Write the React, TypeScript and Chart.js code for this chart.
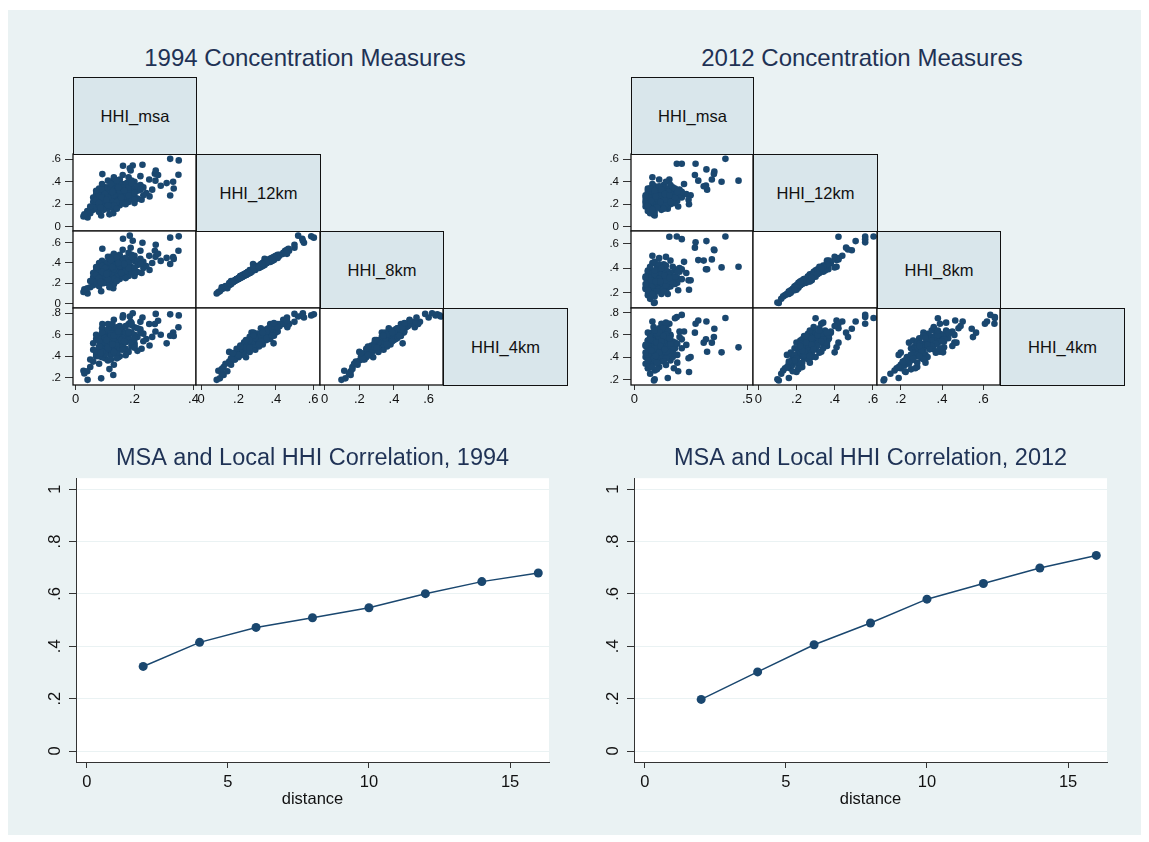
import React, { useEffect, useRef } from "react";
import { Chart, registerables } from "chart.js";

Chart.register(...registerables);

// ---------------- data ----------------
const distance = [2, 4, 6, 8, 10, 12, 14, 16];
const corr1994 = [0.323, 0.415, 0.472, 0.509, 0.547, 0.601, 0.647, 0.68];
const corr2012 = [0.197, 0.302, 0.406, 0.489, 0.58, 0.64, 0.699, 0.747];
const distanceTicks = [0, 5, 10, 15];
const corrTicks = [0, 0.2, 0.4, 0.6, 0.8, 1];

const varLabels = ["HHI_msa", "HHI_12km", "HHI_8km", "HHI_4km"];

const msa1994 = [
  0.321, 0.35, 0.349, 0.321, 0.331, 0.309, 0.289, 0.269, 0.251, 0.227,
  0.187, 0.161, 0.194, 0.091, 0.027, 0.041, 0.224, 0.271, 0.184, 0.128,
  0.087, 0.333, 0.272, 0.06, 0.07, 0.08, 0.09, 0.1, 0.1, 0.11,
  0.11, 0.12, 0.12, 0.13, 0.13, 0.14, 0.14, 0.15, 0.15, 0.16,
  0.16, 0.17, 0.17, 0.18, 0.18, 0.19, 0.2, 0.2, 0.21, 0.22,
  0.23, 0.24, 0.05, 0.06, 0.07, 0.08, 0.09, 0.09, 0.1, 0.11,
  0.12, 0.13, 0.14, 0.15, 0.16, 0.17, 0.18, 0.19, 0.2, 0.21,
  0.22, 0.25, 0.26, 0.28, 0.07, 0.08, 0.1, 0.12, 0.13, 0.14,
  0.15, 0.11, 0.16, 0.18, 0.19, 0.06, 0.04, 0.05, 0.09, 0.23,
  0.135, 0.105, 0.155, 0.125, 0.175, 0.095, 0.145, 0.2, 0.03, 0.115,
  0.08, 0.09, 0.1, 0.1, 0.11, 0.11, 0.12, 0.12, 0.13, 0.13,
  0.14, 0.14, 0.15, 0.15, 0.16, 0.16, 0.17, 0.17, 0.18, 0.19,
  0.07, 0.08, 0.09, 0.1, 0.11, 0.12, 0.13, 0.14, 0.15, 0.16,
  0.17, 0.18, 0.19, 0.2, 0.21, 0.12, 0.13, 0.14, 0.11, 0.1,
  0.09, 0.15, 0.16, 0.17, 0.18, 0.19, 0.2, 0.08, 0.07, 0.12,
  0.14, 0.13, 0.11, 0.155, 0.165, 0.105, 0.125, 0.145, 0.22, 0.085,
];
const km12_1994 = [
  0.604, 0.59, 0.462, 0.278, 0.4, 0.388, 0.364, 0.471, 0.27, 0.551,
  0.5, 0.542, 0.545, 0.468, 0.092, 0.083, 0.24, 0.41, 0.52, 0.12,
  0.1, 0.34, 0.5, 0.15, 0.2, 0.25, 0.3, 0.18, 0.35, 0.22,
  0.28, 0.32, 0.4, 0.26, 0.36, 0.2, 0.3, 0.34, 0.42, 0.28,
  0.38, 0.24, 0.33, 0.3, 0.44, 0.36, 0.27, 0.4, 0.32, 0.45,
  0.35, 0.3, 0.12, 0.22, 0.17, 0.13, 0.24, 0.38, 0.27, 0.16,
  0.21, 0.44, 0.25, 0.19, 0.46, 0.29, 0.22, 0.41, 0.34, 0.25,
  0.37, 0.42, 0.33, 0.46, 0.29, 0.34, 0.31, 0.29, 0.16, 0.37,
  0.27, 0.41, 0.33, 0.26, 0.31, 0.26, 0.14, 0.18, 0.2, 0.28,
  0.23, 0.33, 0.31, 0.37, 0.39, 0.15, 0.24, 0.21, 0.11, 0.11,
  0.19, 0.23, 0.26, 0.21, 0.25, 0.31, 0.18, 0.27, 0.22, 0.3,
  0.33, 0.27, 0.23, 0.37, 0.25, 0.31, 0.27, 0.36, 0.33, 0.28,
  0.24, 0.28, 0.33, 0.23, 0.35, 0.24, 0.34, 0.22, 0.29, 0.21,
  0.38, 0.35, 0.25, 0.3, 0.36, 0.35, 0.19, 0.41, 0.19, 0.29,
  0.26, 0.32, 0.35, 0.2, 0.28, 0.39, 0.24, 0.21, 0.32, 0.38,
  0.16, 0.28, 0.26, 0.26, 0.32, 0.24, 0.31, 0.35, 0.33, 0.17,
];
const km8_1994 = [
  0.65, 0.663, 0.52, 0.39, 0.457, 0.45, 0.42, 0.52, 0.33, 0.6,
  0.55, 0.64, 0.62, 0.54, 0.113, 0.097, 0.3, 0.46, 0.67, 0.15,
  0.12, 0.44, 0.58, 0.18, 0.24, 0.3, 0.36, 0.22, 0.4, 0.27,
  0.33, 0.38, 0.46, 0.31, 0.42, 0.25, 0.36, 0.4, 0.48, 0.34,
  0.44, 0.29, 0.39, 0.37, 0.5, 0.43, 0.33, 0.47, 0.38, 0.52,
  0.41, 0.37, 0.16, 0.26, 0.21, 0.17, 0.28, 0.42, 0.32, 0.2,
  0.26, 0.49, 0.3, 0.24, 0.53, 0.35, 0.27, 0.48, 0.42, 0.31,
  0.44, 0.47, 0.4, 0.49, 0.33, 0.4, 0.37, 0.34, 0.19, 0.41,
  0.33, 0.46, 0.38, 0.33, 0.36, 0.3, 0.15, 0.22, 0.24, 0.35,
  0.29, 0.39, 0.35, 0.44, 0.43, 0.2, 0.28, 0.27, 0.14, 0.16,
  0.23, 0.28, 0.31, 0.26, 0.29, 0.36, 0.23, 0.32, 0.28, 0.35,
  0.39, 0.31, 0.28, 0.43, 0.31, 0.37, 0.32, 0.41, 0.4, 0.34,
  0.28, 0.34, 0.37, 0.27, 0.41, 0.29, 0.38, 0.26, 0.36, 0.27,
  0.45, 0.4, 0.31, 0.35, 0.42, 0.4, 0.24, 0.45, 0.24, 0.35,
  0.31, 0.37, 0.42, 0.25, 0.35, 0.46, 0.29, 0.25, 0.36, 0.43,
  0.22, 0.34, 0.3, 0.3, 0.39, 0.29, 0.36, 0.4, 0.39, 0.21,
];
const km4_1994 = [
  0.79, 0.78, 0.67, 0.59, 0.62, 0.52, 0.6, 0.7, 0.5, 0.76,
  0.72, 0.78, 0.8, 0.7, 0.264, 0.18, 0.47, 0.63, 0.77, 0.225,
  0.194, 0.588, 0.794, 0.35, 0.42, 0.48, 0.55, 0.38, 0.62, 0.45,
  0.52, 0.58, 0.66, 0.5, 0.63, 0.43, 0.56, 0.6, 0.68, 0.54,
  0.64, 0.47, 0.59, 0.57, 0.7, 0.62, 0.52, 0.67, 0.58, 0.72,
  0.61, 0.56, 0.3, 0.46, 0.4, 0.33, 0.5, 0.66, 0.53, 0.36,
  0.41, 0.74, 0.48, 0.4, 0.76, 0.55, 0.44, 0.69, 0.6, 0.45,
  0.65, 0.7, 0.58, 0.73, 0.56, 0.58, 0.6, 0.46, 0.32, 0.56,
  0.62, 0.7, 0.51, 0.58, 0.49, 0.52, 0.26, 0.37, 0.39, 0.54,
  0.53, 0.64, 0.53, 0.7, 0.59, 0.44, 0.39, 0.5, 0.24, 0.28,
  0.4, 0.47, 0.46, 0.44, 0.51, 0.57, 0.37, 0.55, 0.49, 0.61,
  0.55, 0.5, 0.46, 0.65, 0.49, 0.59, 0.53, 0.61, 0.63, 0.51,
  0.45, 0.54, 0.62, 0.42, 0.65, 0.53, 0.57, 0.42, 0.58, 0.46,
  0.68, 0.55, 0.53, 0.56, 0.66, 0.61, 0.44, 0.67, 0.47, 0.57,
  0.44, 0.66, 0.57, 0.41, 0.62, 0.71, 0.48, 0.49, 0.6, 0.59,
  0.38, 0.59, 0.48, 0.55, 0.54, 0.55, 0.51, 0.63, 0.62, 0.43,
];

const msa2012 = [
  0.403, 0.461, 0.386, 0.354, 0.319, 0.271, 0.188, 0.21, 0.283, 0.317,
  0.087, 0.061, 0.155, 0.242, 0.352, 0.322, 0.307, 0.343, 0.148, 0.194,
  0.249, 0.09, 0.268, 0.05, 0.05, 0.06, 0.06, 0.06, 0.07, 0.07,
  0.07, 0.08, 0.08, 0.08, 0.09, 0.09, 0.09, 0.1, 0.1, 0.1,
  0.11, 0.11, 0.11, 0.12, 0.12, 0.12, 0.13, 0.13, 0.13, 0.14,
  0.14, 0.14, 0.15, 0.15, 0.16, 0.16, 0.17, 0.17, 0.18, 0.18,
  0.19, 0.2, 0.21, 0.22, 0.23, 0.24, 0.06, 0.07, 0.08, 0.09,
  0.1, 0.11, 0.12, 0.13, 0.14, 0.15, 0.16, 0.17, 0.19, 0.2,
  0.05, 0.06, 0.08, 0.09, 0.1, 0.11, 0.12, 0.13, 0.14, 0.15,
  0.16, 0.18, 0.21, 0.07, 0.085, 0.105, 0.125, 0.145, 0.175, 0.065,
  0.06, 0.06, 0.07, 0.07, 0.08, 0.08, 0.09, 0.09, 0.1, 0.1,
  0.11, 0.11, 0.12, 0.12, 0.13, 0.13, 0.14, 0.14, 0.15, 0.16,
  0.05, 0.06, 0.07, 0.08, 0.09, 0.1, 0.11, 0.12, 0.13, 0.14,
  0.15, 0.16, 0.17, 0.18, 0.19, 0.07, 0.08, 0.09, 0.1, 0.11,
  0.12, 0.13, 0.14, 0.06, 0.07, 0.08, 0.09, 0.1, 0.11, 0.12,
  0.13, 0.14, 0.15, 0.16, 0.05, 0.075, 0.095, 0.115, 0.135, 0.155,
];
const km12_2012 = [
  0.604, 0.41, 0.4, 0.49, 0.51, 0.56, 0.56, 0.56, 0.41, 0.367,
  0.107, 0.166, 0.42, 0.2, 0.47, 0.33, 0.36, 0.42, 0.16, 0.18,
  0.28, 0.1, 0.46, 0.18, 0.26, 0.22, 0.3, 0.14, 0.2, 0.34,
  0.25, 0.16, 0.28, 0.38, 0.22, 0.31, 0.13, 0.24, 0.35, 0.19,
  0.27, 0.42, 0.17, 0.29, 0.23, 0.33, 0.21, 0.37, 0.26, 0.3,
  0.18, 0.4, 0.24, 0.32, 0.28, 0.2, 0.35, 0.25, 0.3, 0.22,
  0.27, 0.33, 0.26, 0.38, 0.29, 0.24, 0.27, 0.12, 0.44, 0.27,
  0.3, 0.23, 0.15, 0.32, 0.25, 0.21, 0.37, 0.3, 0.23, 0.29,
  0.21, 0.34, 0.24, 0.36, 0.21, 0.32, 0.19, 0.28, 0.34, 0.27,
  0.24, 0.34, 0.31, 0.17, 0.29, 0.26, 0.35, 0.2, 0.21, 0.24,
  0.2, 0.25, 0.22, 0.29, 0.18, 0.26, 0.24, 0.19, 0.28, 0.22,
  0.25, 0.3, 0.21, 0.26, 0.23, 0.3, 0.22, 0.27, 0.25, 0.29,
  0.23, 0.32, 0.16, 0.31, 0.21, 0.33, 0.2, 0.28, 0.19, 0.31,
  0.19, 0.26, 0.23, 0.26, 0.31, 0.26, 0.22, 0.29, 0.17, 0.36,
  0.24, 0.25, 0.2, 0.19, 0.34, 0.15, 0.32, 0.25, 0.28, 0.33,
  0.16, 0.24, 0.31, 0.22, 0.28, 0.23, 0.27, 0.22, 0.29, 0.28,
];
const km8_2012 = [
  0.656, 0.41, 0.405, 0.544, 0.618, 0.608, 0.656, 0.634, 0.464, 0.39,
  0.117, 0.2, 0.654, 0.224, 0.55, 0.39, 0.46, 0.47, 0.19, 0.22,
  0.3, 0.12, 0.565, 0.23, 0.32, 0.28, 0.35, 0.18, 0.26, 0.4,
  0.3, 0.21, 0.34, 0.44, 0.27, 0.36, 0.17, 0.3, 0.42, 0.25,
  0.33, 0.48, 0.22, 0.35, 0.29, 0.39, 0.26, 0.43, 0.33, 0.36,
  0.22, 0.49, 0.31, 0.37, 0.34, 0.25, 0.41, 0.3, 0.38, 0.27,
  0.32, 0.4, 0.31, 0.45, 0.36, 0.3, 0.31, 0.15, 0.5, 0.32,
  0.38, 0.28, 0.19, 0.36, 0.29, 0.28, 0.46, 0.33, 0.28, 0.37,
  0.24, 0.37, 0.31, 0.45, 0.25, 0.41, 0.23, 0.35, 0.42, 0.35,
  0.28, 0.39, 0.39, 0.2, 0.36, 0.31, 0.38, 0.24, 0.27, 0.28,
  0.25, 0.29, 0.27, 0.34, 0.23, 0.3, 0.29, 0.24, 0.33, 0.26,
  0.3, 0.36, 0.26, 0.32, 0.28, 0.37, 0.27, 0.33, 0.3, 0.36,
  0.27, 0.38, 0.2, 0.36, 0.26, 0.39, 0.24, 0.35, 0.23, 0.38,
  0.25, 0.31, 0.28, 0.33, 0.37, 0.32, 0.26, 0.35, 0.21, 0.43,
  0.28, 0.31, 0.26, 0.22, 0.41, 0.19, 0.38, 0.28, 0.31, 0.4,
  0.21, 0.3, 0.35, 0.29, 0.33, 0.3, 0.29, 0.29, 0.34, 0.32,
];
const km4_2012 = [
  0.752, 0.488, 0.443, 0.655, 0.721, 0.7, 0.76, 0.78, 0.73, 0.56,
  0.19, 0.3, 0.7, 0.266, 0.58, 0.448, 0.53, 0.53, 0.212, 0.273,
  0.4, 0.2, 0.62, 0.4, 0.5, 0.45, 0.55, 0.3, 0.38, 0.6,
  0.5, 0.34, 0.52, 0.62, 0.46, 0.58, 0.28, 0.43, 0.64, 0.48,
  0.53, 0.66, 0.36, 0.49, 0.56, 0.7, 0.41, 0.57, 0.61, 0.47,
  0.33, 0.68, 0.52, 0.44, 0.59, 0.37, 0.54, 0.45, 0.75, 0.5,
  0.42, 0.58, 0.48, 0.63, 0.51, 0.39, 0.62, 0.25, 0.72, 0.35,
  0.54, 0.31, 0.42, 0.66, 0.57, 0.46, 0.6, 0.4, 0.35, 0.63,
  0.34, 0.52, 0.59, 0.5, 0.29, 0.6, 0.39, 0.55, 0.71, 0.64,
  0.43, 0.48, 0.56, 0.44, 0.67, 0.38, 0.53, 0.53, 0.3, 0.41,
  0.42, 0.46, 0.49, 0.53, 0.38, 0.47, 0.52, 0.36, 0.5, 0.41,
  0.45, 0.58, 0.47, 0.51, 0.44, 0.56, 0.48, 0.52, 0.49, 0.55,
  0.44, 0.55, 0.33, 0.57, 0.43, 0.61, 0.4, 0.55, 0.38, 0.6,
  0.42, 0.46, 0.49, 0.53, 0.52, 0.58, 0.55, 0.48, 0.35, 0.62,
  0.42, 0.59, 0.39, 0.37, 0.56, 0.31, 0.64, 0.53, 0.44, 0.54,
  0.36, 0.45, 0.5, 0.52, 0.51, 0.46, 0.41, 0.5, 0.47, 0.57,
];

// axis tick values (per column: msa, 12km, 8km; per row: 12km, 8km, 4km)
const colTicks1994 = [[0, 0.2, 0.4], [0, 0.2, 0.4, 0.6], [0, 0.2, 0.4, 0.6]];
const rowTicks1994 = [[0, 0.2, 0.4, 0.6], [0, 0.2, 0.4, 0.6], [0.2, 0.4, 0.6, 0.8]];
const colTicks2012 = [[0, 0.5], [0, 0.2, 0.4, 0.6], [0.2, 0.4, 0.6]];
const rowTicks2012 = [[0, 0.2, 0.4, 0.6], [0.2, 0.4, 0.6], [0.2, 0.4, 0.6, 0.8]];

// axis ranges
const colRange1994: [number, number][] = [[-0.0085, 0.4085], [-0.028, 0.637], [-0.027, 0.683]];
const rowRange1994: [number, number][] = [[-0.038, 0.647], [-0.046, 0.716], [0.132, 0.849]];
const colRange2012: [number, number][] = [[-0.0146, 0.525], [-0.028, 0.622], [0.085, 0.681]];
const rowRange2012: [number, number][] = [[-0.038, 0.647], [0.076, 0.7], [0.149, 0.842]];

// ---------------- style ----------------
const FONT = '"Liberation Sans", Arial, Helvetica, sans-serif';
const NAVY = "#1A476F";
const TITLE_COLOR = "#1F3255";
const BG = "#EAF2F3";
const DIAG_BG = "#D9E6EB";
const AXIS = "#333333";
const TEXT = "#111111";

Chart.defaults.font.family = FONT;
Chart.defaults.color = TEXT;

const fmt = (v: number) => {
  if (Math.abs(v) < 1e-9) return "0";
  if (Math.abs(v - 1) < 1e-9) return "1";
  return v.toFixed(1).replace(/^0\./, ".");
};

const fixSize = (dim: "width" | "height", size: number) => (sc: any) => {
  sc[dim] = size;
  sc.paddingLeft = 0;
  sc.paddingRight = 0;
  sc.paddingTop = 0;
  sc.paddingBottom = 0;
};

const setTicks = (vals: number[]) => (sc: any) => {
  sc.ticks = vals.map((v) => ({ value: v }));
};

const framePlugin = {
  id: "frame",
  beforeDraw(chart: any) {
    const { ctx, chartArea: a } = chart;
    ctx.save();
    ctx.fillStyle = "#ffffff";
    ctx.fillRect(a.left, a.top, a.right - a.left, a.bottom - a.top);
    ctx.restore();
  },
  afterDraw(chart: any, _args: any, opts: any) {
    if (!opts || !opts.border) return;
    const { ctx, chartArea: a } = chart;
    ctx.save();
    ctx.strokeStyle = "#111111";
    ctx.lineWidth = 1.3;
    ctx.strokeRect(a.left, a.top, a.right - a.left, a.bottom - a.top);
    ctx.restore();
  },
};

type Rect = { l: number; t: number; w: number; h: number };

function ChartBox({ rect, build }: { rect: Rect; build: (c: HTMLCanvasElement) => Chart }) {
  const ref = useRef<HTMLCanvasElement | null>(null);
  useEffect(() => {
    const chart = build(ref.current as HTMLCanvasElement);
    return () => chart.destroy();
  }, []);
  return (
    <canvas
      ref={ref}
      width={rect.w}
      height={rect.h}
      style={{ position: "absolute", left: rect.l, top: rect.t, width: rect.w, height: rect.h }}
    />
  );
}

// ---------------- scatter matrix ----------------
const ML = 45, MR = 14, MT = 8, MB = 30;
const ROWS_Y = [77, 154, 231, 308, 385];

type MatrixSpec = {
  year: string;
  colsX: number[];
  vars: number[][];
  colTicks: number[][];
  rowTicks: number[][];
  colRange: [number, number][];
  rowRange: [number, number][];
  titleCenter: number;
};

function scatterBuilder(
  xs: number[], ys: number[], xr: [number, number], yr: [number, number],
  xt: number[] | null, yt: number[] | null
) {
  return (canvas: HTMLCanvasElement) =>
    new Chart(canvas, {
      type: "scatter",
      data: {
        datasets: [
          {
            data: xs.map((v, i) => ({ x: v, y: ys[i] })),
            backgroundColor: NAVY,
            borderColor: NAVY,
            borderWidth: 0,
            pointRadius: 3.3,
            pointHoverRadius: 3.3,
          },
        ],
      },
      options: {
        animation: false,
        responsive: false,
        events: [],
        layout: { padding: { left: yt ? 0 : ML, right: MR, top: MT, bottom: xt ? 0 : MB } },
        plugins: { legend: { display: false }, tooltip: { enabled: false }, frame: { border: true } } as any,
        scales: {
          x: {
            type: "linear",
            position: "bottom",
            min: xr[0],
            max: xr[1],
            display: !!xt,
            grid: { drawOnChartArea: false, drawTicks: true, tickLength: 5, tickColor: AXIS, color: "rgba(0,0,0,0)" },
            border: { display: false },
            ticks: { font: { size: 13 }, color: TEXT, padding: 2, autoSkip: false, maxRotation: 0, callback: (v: any) => fmt(Number(v)) },
            afterBuildTicks: setTicks(xt || []),
            afterFit: fixSize("height", xt ? MB : 0),
          },
          y: {
            type: "linear",
            position: "left",
            min: yr[0],
            max: yr[1],
            display: !!yt,
            grid: { drawOnChartArea: false, drawTicks: true, tickLength: 8, tickColor: AXIS, color: "rgba(0,0,0,0)" },
            border: { display: false },
            ticks: { font: { size: 11.5 }, color: TEXT, padding: 4, autoSkip: false, callback: (v: any) => fmt(Number(v)) },
            afterBuildTicks: setTicks(yt || []),
            afterFit: fixSize("width", yt ? ML : 0),
          },
        } as any,
      },
      plugins: [framePlugin as any],
    });
}

function Matrix({ spec }: { spec: MatrixSpec }) {
  const cells: React.ReactNode[] = [];
  for (let r = 1; r < 4; r++) {
    for (let c = 0; c < r; c++) {
      const l = spec.colsX[c], t = ROWS_Y[r];
      const w = spec.colsX[c + 1] - l, h = ROWS_Y[r + 1] - t;
      const rect = { l: l - ML, t: t - MT, w: w + ML + MR, h: h + MT + MB };
      cells.push(
        <ChartBox
          key={`${spec.year}-${r}-${c}`}
          rect={rect}
          build={scatterBuilder(
            spec.vars[c], spec.vars[r], spec.colRange[c], spec.rowRange[r - 1],
            r === 3 ? spec.colTicks[c] : null,
            c === 0 ? spec.rowTicks[r - 1] : null
          )}
        />
      );
    }
  }
  const diag = varLabels.map((lab, i) => (
    <div
      key={`${spec.year}-d${i}`}
      style={{
        position: "absolute",
        left: spec.colsX[i],
        top: ROWS_Y[i],
        width: spec.colsX[i + 1] - spec.colsX[i] + 1,
        height: ROWS_Y[i + 1] - ROWS_Y[i] + 1,
        boxSizing: "border-box",
        border: "1px solid #111",
        background: DIAG_BG,
        display: "flex",
        alignItems: "center",
        justifyContent: "center",
        fontFamily: FONT,
        fontSize: 16.5,
        color: TEXT,
      }}
    >
      {lab}
    </div>
  ));
  return (
    <>
      <div
        style={{
          position: "absolute",
          left: spec.titleCenter - 250,
          width: 500,
          top: 44,
          textAlign: "center",
          fontFamily: FONT,
          fontSize: 24,
          lineHeight: "28px",
          color: TITLE_COLOR,
        }}
      >
        {spec.year} Concentration Measures
      </div>
      {cells}
      {diag}
    </>
  );
}

// ---------------- line charts ----------------
function lineBuilder(vals: number[], title: string) {
  return (canvas: HTMLCanvasElement) =>
    new Chart(canvas, {
      type: "line",
      data: {
        datasets: [
          {
            data: distance.map((d, i) => ({ x: d, y: vals[i] })),
            borderColor: NAVY,
            backgroundColor: NAVY,
            borderWidth: 1.5,
            pointRadius: 4.5,
            pointHoverRadius: 4.5,
            pointBackgroundColor: NAVY,
            pointBorderWidth: 0,
            tension: 0,
            fill: false,
          },
        ],
      },
      options: {
        animation: false,
        responsive: false,
        events: [],
        layout: { padding: { left: 0, right: 21, top: 0, bottom: 0 } },
        plugins: {
          legend: { display: false },
          tooltip: { enabled: false },
          title: {
            display: true,
            text: title,
            color: TITLE_COLOR,
            font: { size: 23.5, weight: "normal" },
            padding: { top: 14, bottom: 6 },
            fullSize: false,
          },
          frame: { border: false },
        } as any,
        scales: {
          x: {
            type: "linear",
            min: -0.38,
            max: 16.38,
            grid: { drawOnChartArea: false, drawTicks: true, tickLength: 6, tickColor: AXIS },
            border: { display: true, color: AXIS, width: 1 },
            ticks: { font: { size: 16.5 }, color: TEXT, padding: 5, autoSkip: false, maxRotation: 0, callback: (v: any) => String(v) },
            afterBuildTicks: setTicks(distanceTicks),
            afterFit: fixSize("height", 58),
            title: { display: true, text: "distance", color: TEXT, font: { size: 16.5 }, padding: { top: 0, bottom: 11 } },
          },
          y: {
            type: "linear",
            min: -0.042,
            max: 1.042,
            grid: { drawOnChartArea: true, color: BG, lineWidth: 1, drawTicks: true, tickLength: 7, tickColor: AXIS },
            border: { display: true, color: AXIS, width: 1 },
            ticks: {
              font: { size: 16.5 },
              color: TEXT,
              padding: 7,
              autoSkip: false,
              minRotation: 90,
              maxRotation: 90,
              crossAlign: "center",
              callback: (v: any) => fmt(Number(v)),
            },
            afterBuildTicks: setTicks(corrTicks),
            afterFit: fixSize("width", 56),
          },
        } as any,
      },
      plugins: [framePlugin as any],
    });
}

const spec1994: MatrixSpec = {
  year: "1994",
  colsX: [73, 196, 320, 443, 567],
  vars: [msa1994, km12_1994, km8_1994, km4_1994],
  colTicks: colTicks1994,
  rowTicks: rowTicks1994,
  colRange: colRange1994,
  rowRange: rowRange1994,
  titleCenter: 305,
};
const spec2012: MatrixSpec = {
  year: "2012",
  colsX: [631, 753, 877, 1000, 1124],
  vars: [msa2012, km12_2012, km8_2012, km4_2012],
  colTicks: colTicks2012,
  rowTicks: rowTicks2012,
  colRange: colRange2012,
  rowRange: rowRange2012,
  titleCenter: 862,
};

export default function App() {
  return (
    <div style={{ position: "absolute", left: 0, top: 0, width: 1149, height: 842, background: "#fff", overflow: "hidden" }}>
      <div style={{ position: "absolute", left: 8, top: 10, width: 1133, height: 825, background: BG }} />
      <Matrix spec={spec1994} />
      <Matrix spec={spec2012} />
      <ChartBox rect={{ l: 20, t: 430, w: 550, h: 390 }} build={lineBuilder(corr1994, "MSA and Local HHI Correlation, 1994")} />
      <ChartBox rect={{ l: 578, t: 430, w: 550, h: 390 }} build={lineBuilder(corr2012, "MSA and Local HHI Correlation, 2012")} />
    </div>
  );
}
